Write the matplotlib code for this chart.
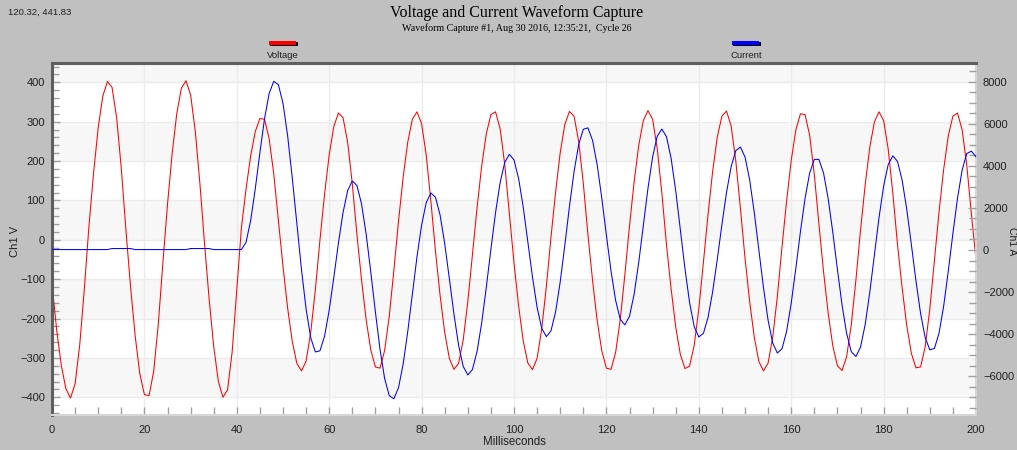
import numpy as np
import matplotlib
matplotlib.use("Agg")
import matplotlib.pyplot as plt
from matplotlib.patches import Rectangle
from matplotlib.ticker import MultipleLocator

W, H = 1017, 450

# samples are 1 ms apart, 0..200 ms
ms = np.arange(0, 201)

# Ch1 V
voltage = [
    -112, -228, -318, -378, -402, -366, -267, -124, 35, 170,
    285, 365, 402, 387, 309, 181, 25, -119, -244, -340,
    -393, -396, -335, -215, -59, 90, 218, 320, 385, 404,
    368, 277, 145, -7, -149, -271, -359, -400, -381, -284,
    -128, 31, 129, 213, 275, 308, 306, 257, 167, 50,
    -68, -173, -258, -314, -333, -308, -235, -127, 0, 116,
    216, 288, 322, 310, 247, 142, 13, -102, -203, -280,
    -323, -326, -281, -194, -77, 47, 158, 248, 306, 325,
    295, 215, 99, -29, -141, -235, -301, -329, -314, -255,
    -157, -38, 81, 187, 269, 318, 325, 282, 191, 67,
    -59, -168, -257, -313, -330, -301, -226, -119, 6, 121,
    221, 293, 326, 314, 250, 144, 13, -103, -205, -282,
    -326, -329, -286, -202, -88, 35, 147, 240, 303, 328,
    306, 232, 119, -12, -124, -221, -291, -327, -321, -268,
    -176, -57, 65, 174, 261, 314, 327, 289, 201, 81,
    -46, -156, -247, -309, -333, -313, -247, -144, -19, 98,
    201, 279, 320, 318, 265, 166, 40, -81, -186, -269,
    -320, -332, -297, -216, -103, 24, 138, 234, 299, 325,
    303, 230, 118, -11, -121, -217, -288, -325, -323, -272,
    -176, -53, 71, 179, 264, 314, 322, 279, 189, 66,
    -51,
]

# Ch1 A
current = [
    20, 20, 20, 20, 20, 20, 20, 20, 20, 20,
    20, 20, 20, 70, 70, 70, 70, 70, 20, 20,
    20, 20, 20, 20, 20, 20, 20, 20, 20, 20,
    70, 70, 70, 70, 70, 20, 20, 20, 20, 20,
    20, 20, 366, 1400, 2914, 4629, 6236, 7438, 8018, 7862,
    6967, 5432, 3436, 1241, -931, -2810, -4170, -4845, -4791, -4090,
    -2859, -1300, 335, 1786, 2827, 3280, 3070, 2188, 750, -1046,
    -2947, -4720, -6110, -6924, -7070, -6545, -5430, -3878, -2094, -324,
    1186, 2251, 2712, 2508, 1663, 307, -1349, -3046, -4519, -5533,
    -5937, -5683, -4828, -3475, -1786, 39, 1770, 3207, 4167, 4547,
    4282, 3397, 2030, 386, -1285, -2727, -3721, -4117, -3845, -2942,
    -1518, 227, 2060, 3724, 5012, 5740, 5806, 5212, 4049, 2470,
    703, -999, -2397, -3295, -3561, -3149, -2103, -584, 1181, 2935,
    4418, 5405, 5750, 5389, 4367, 2820, 988, -877, -2497, -3638,
    -4135, -3960, -3203, -1980, -444, 1204, 2740, 3963, 4720, 4896,
    4424, 3344, 1792, 0, -1792, -3344, -4424, -4896, -4698, -3874,
    -2534, -874, 873, 2460, 3661, 4306, 4306, 3658, 2447, 844,
    -917, -2605, -3968, -4831, -5062, -4619, -3557, -2028, -249, 1524,
    3033, 4067, 4476, 4214, 3329, 1954, 276, -1463, -3010, -4161,
    -4747, -4678, -3950, -2667, -1010, 787, 2463, 3795, 4583, 4700,
    4430,
]

title = "Voltage and Current Waveform Capture"
subtitle = "Waveform Capture #1, Aug 30 2016, 12:35:21,  Cycle 26"
cursor_text = "120.32, 441.83"
series_names = ["Voltage", "Current"]
series_colors = ["#ff0000", "#0000ff"]

SANS = "Liberation Sans"
SERIF = "Liberation Serif"
TXT = "#202020"


def fx(px):
    return px / W


def fy(py):
    return 1 - py / H


fig = plt.figure(figsize=(W / 100, H / 100), dpi=100, facecolor="#c0c0c0")
ax = fig.add_axes([fx(52), fy(415), (976 - 52) / W, (415 - 63) / H])
ax.set_facecolor("white")

# alternating light bands
for lo in range(-400, 401, 200):
    ax.axhspan(lo, lo + 100, color="#f7f7f7", lw=0, zorder=0)

ax.set_xlim(0, 200)
ax.set_ylim(-445, 449)
ax.xaxis.set_major_locator(MultipleLocator(20))
ax.xaxis.set_minor_locator(MultipleLocator(5))
ax.yaxis.set_major_locator(MultipleLocator(100))
ax.yaxis.set_minor_locator(MultipleLocator(20))
ax.grid(which="major", color="#ebebeb", lw=1)
ax.set_axisbelow(True)

ax.tick_params(axis="both", which="both", direction="in", color="#a0a0a0",
               labelcolor=TXT, labelsize=8, width=1)
ax.tick_params(axis="x", which="both", length=6, pad=7)
ax.tick_params(axis="y", which="major", length=6, pad=5)
ax.tick_params(axis="y", which="minor", length=5)
for lab in ax.get_xticklabels() + ax.get_yticklabels():
    lab.set_fontfamily(SANS)

ax.set_xlabel("Milliseconds", fontfamily=SANS, fontsize=8.3, color=TXT, labelpad=1)

for side in ["top", "left"]:
    ax.spines[side].set_color("#5e5e5e")
    ax.spines[side].set_linewidth(2.2)
for side in ["bottom", "right"]:
    ax.spines[side].set_color("#d6d6d6")
    ax.spines[side].set_linewidth(1.5)

ax.plot(ms, voltage, color=series_colors[0], lw=0.75)

ax2 = ax.twinx()
ax2.set_ylim(-7842, 8888)
ax2.yaxis.set_major_locator(MultipleLocator(2000))
ax2.yaxis.set_minor_locator(MultipleLocator(500))
ax2.tick_params(axis="y", which="both", direction="in", color="#a0a0a0",
                labelcolor=TXT, labelsize=8, width=1, pad=5)
ax2.tick_params(axis="y", which="major", length=6)
ax2.tick_params(axis="y", which="minor", length=5)
for lab in ax2.get_yticklabels():
    lab.set_fontfamily(SANS)
for sp in ax2.spines.values():
    sp.set_visible(False)
ax2.plot(ms, current, color=series_colors[1], lw=0.75)

# axis titles
fig.text(fx(15), fy(241), "Ch1 V", rotation=90, ha="center", va="center",
         fontfamily=SANS, fontsize=8, color=TXT)
fig.text(fx(1012), fy(241), "Ch1 A", rotation=270, ha="center", va="center",
         fontfamily=SANS, fontsize=7.5, color=TXT)

# header
fig.text(fx(517), fy(13), title, ha="center", va="center",
         fontfamily=SERIF, fontsize=11.5, color="black")
fig.text(fx(517), fy(28.5), subtitle, ha="center", va="center",
         fontfamily=SERIF, fontsize=7.2, color="black")
fig.text(fx(8), fy(12), cursor_text, ha="left", va="center",
         fontfamily=SANS, fontsize=6.8, color=TXT)

# legend swatches
for name, col, cx in zip(series_names, series_colors, [283, 746]):
    fig.patches.append(Rectangle((fx(cx - 13), fy(45.5)), 28 / W, 4 / H,
                                 transform=fig.transFigure, color="black", lw=0))
    fig.patches.append(Rectangle((fx(cx - 14), fy(44.5)), 27 / W, 3.5 / H,
                                 transform=fig.transFigure, color=col, lw=0))
    fig.text(fx(cx), fy(55), name, ha="center", va="center",
             fontfamily=SANS, fontsize=6.8, color=TXT)

fig.savefig("out.png", dpi=100, facecolor=fig.get_facecolor())
